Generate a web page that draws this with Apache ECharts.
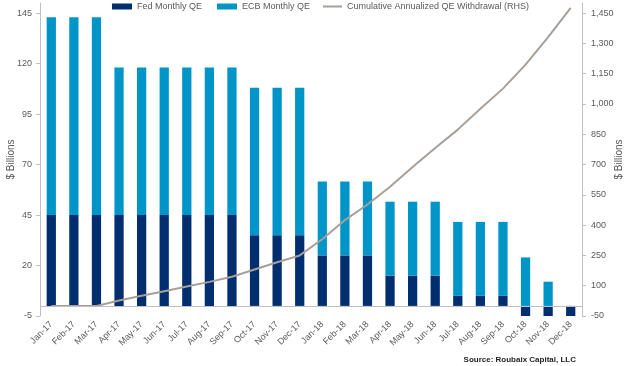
<!DOCTYPE html>
<html>
<head>
<meta charset="utf-8">
<script src="https://cdn.jsdelivr.net/npm/echarts@6/dist/echarts.min.js"></script>
<style>html,body{margin:0;padding:0;background:#fff}#c{width:633px;height:366px}</style>
</head>
<body>
<div id="c"></div>
<script>
const categories = ['Jan-17','Feb-17','Mar-17','Apr-17','May-17','Jun-17','Jul-17','Aug-17','Sep-17','Oct-17','Nov-17','Dec-17',
  'Jan-18','Feb-18','Mar-18','Apr-18','May-18','Jun-18','Jul-18','Aug-18','Sep-18','Oct-18','Nov-18','Dec-18'];
const fedQE = [45,45,45,45,45,45,45,45,45,35,35,35,25,25,25,15,15,15,5,5,5,-5,-5,-5];
const ecbQE = [98,98,98,73,73,73,73,73,73,73,73,73,36.6,36.6,36.6,36.6,36.6,36.6,36.6,36.6,36.6,24,12,0];
const cumWithdrawal = [0,0,0,27,50,73,96,119,144,180,216,250,330,425,502,590,688,782,873,976,1076,1195,1331,1476];
const leftTicks = [-5,20,45,70,95,120,145];
const rightTicks = [-50,100,250,400,550,700,850,1000,1150,1300,1450];

const FONT = "'Liberation Sans', sans-serif";
const GREY = '#595959';
const chart = echarts.init(document.getElementById('c'), null, {renderer: 'canvas'});
const legendText = {color: GREY, fontSize: 9, fontFamily: FONT};
chart.setOption({
  animation: false,
  textStyle: {fontFamily: FONT},
  grid: {left: 40, right: 51, top: 3, bottom: 50, outerBoundsMode: 'none', containLabel: false},
  legend: [
    {data: ['Fed Monthly QE'], left: 112, top: 2, padding: 0, itemWidth: 20, itemHeight: 6, itemGap: 2, textStyle: legendText, icon: 'rect'},
    {data: ['ECB Monthly QE'], left: 217, top: 2, padding: 0, itemWidth: 20, itemHeight: 6, textStyle: legendText, icon: 'rect'},
    {data: ['Cumulative Annualized QE Withdrawal (RHS)'], left: 323, top: 2, padding: 0, itemWidth: 19, itemHeight: 2, textStyle: legendText, icon: 'rect'}
  ],
  xAxis: {
    type: 'category', data: categories,
    axisLine: {show: false}, axisTick: {show: false},
    axisLabel: {rotate: 45, color: GREY, fontSize: 9, fontFamily: FONT, margin: 7, interval: 0}
  },
  yAxis: [
    {type: 'value', min: -5, max: 150, position: 'left',
     name: '$ Billions', nameLocation: 'middle', nameGap: 24, nameMoveOverlap: false, nameTruncate: {maxWidth: 200},
     nameTextStyle: {color: GREY, fontSize: 10, fontFamily: FONT},
     axisLine: {show: true, lineStyle: {color: '#bfbfbf'}},
     axisTick: {show: true, length: 4, customValues: leftTicks, lineStyle: {color: '#bfbfbf'}},
     axisLabel: {customValues: leftTicks, color: GREY, fontSize: 9, fontFamily: FONT, margin: 8},
     splitLine: {show: false}},
    {type: 'value', min: -50, max: 1500, position: 'right',
     name: '$ Billions', nameLocation: 'middle', nameGap: 32, nameMoveOverlap: false, nameTruncate: {maxWidth: 200},
     nameTextStyle: {color: GREY, fontSize: 10, fontFamily: FONT},
     axisLine: {show: true, lineStyle: {color: '#bfbfbf'}},
     axisTick: {show: true, length: 4, customValues: rightTicks, lineStyle: {color: '#bfbfbf'}},
     axisLabel: {customValues: rightTicks, color: GREY, fontSize: 9, fontFamily: FONT, margin: 9,
       formatter: v => v.toLocaleString('en-US')},
     splitLine: {show: false}}
  ],
  series: [
    {name: 'Fed Monthly QE', type: 'bar', stack: 'qe', data: fedQE, barWidth: '41%',
     itemStyle: {color: '#002E6E'},
     markLine: {silent: true, symbol: 'none', label: {show: false},
       lineStyle: {color: '#bfbfbf', type: 'solid', width: 1}, data: [{yAxis: 0}]}},
    {name: 'ECB Monthly QE', type: 'bar', stack: 'qe', data: ecbQE, barWidth: '41%',
     itemStyle: {color: '#0095C8'}},
    {name: 'Cumulative Annualized QE Withdrawal (RHS)', type: 'line', yAxisIndex: 1, data: cumWithdrawal,
     symbol: 'none', showSymbol: false, lineStyle: {color: '#A89F98', width: 2}, itemStyle: {color: '#A89F98'}}
  ],
  graphic: [{type: 'text', right: 57, top: 356,
    style: {text: 'Source: Roubaix Capital, LLC', font: "bold 8px " + FONT, fill: '#1f1f1f'}}]
});
</script>
</body>
</html>
